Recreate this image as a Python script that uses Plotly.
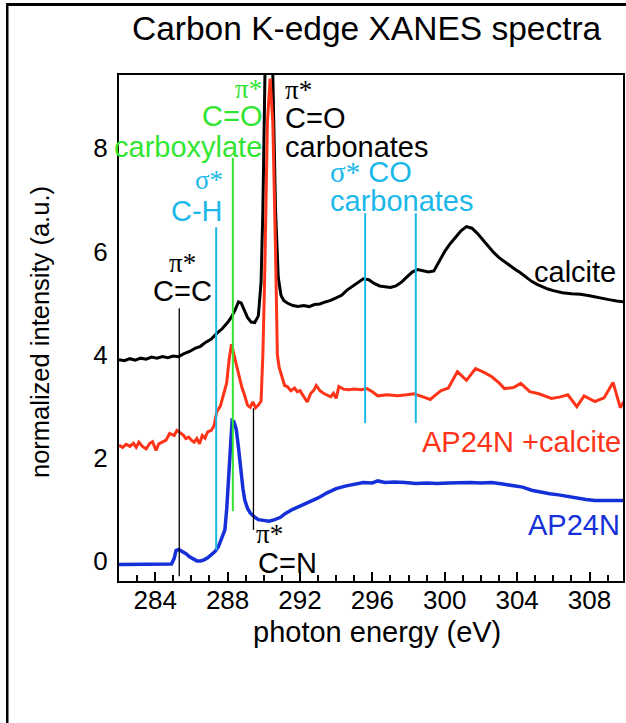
import plotly.graph_objects as go

# ---------------- data ----------------
calcite_x = [282.0, 282.3, 282.6, 282.9, 283.2, 283.5, 283.8, 284.1, 284.4, 284.7, 285.0, 285.3,
             285.6, 285.9, 286.2, 286.5, 286.8, 287.1, 287.4, 287.7, 288.0, 288.2, 288.4, 288.6,
             288.75, 288.9, 289.1, 289.3, 289.5, 289.7, 289.85, 289.95, 290.05, 290.2, 290.35,
             290.5, 290.65, 290.8, 290.95, 291.1, 291.3, 291.6, 291.9, 292.2, 292.5, 292.8, 293.1,
             293.4, 293.7, 294.0, 294.3, 294.6, 294.9, 295.2, 295.5, 295.8, 296.1, 296.4, 296.7,
             297.0, 297.3, 297.6, 297.9, 298.2, 298.5, 298.8, 299.1, 299.4, 299.7, 300.0, 300.3,
             300.6, 300.9, 301.2, 301.5, 301.8, 302.1, 302.4, 302.7, 303.0, 303.3, 303.6, 303.9,
             304.2, 304.5, 304.8, 305.1, 305.4, 305.7, 306.0, 306.5, 307.0, 307.5, 308.0, 308.5,
             309.0, 309.5, 309.9]
calcite_y = [3.90, 3.88, 3.92, 3.89, 3.93, 3.91, 3.95, 3.93, 3.96, 3.94, 3.97, 3.96,
             4.02, 4.06, 4.12, 4.16, 4.24, 4.30, 4.41, 4.50, 4.62, 4.72, 4.85, 5.02,
             5.00, 4.88, 4.72, 4.63, 4.62, 4.75, 5.40, 6.80, 9.60, 12.5, 12.0,
             9.60, 6.80, 5.50, 5.15, 5.05, 5.00, 4.95, 4.93, 4.95, 4.93, 4.97, 4.98,
             5.02, 5.05, 5.10, 5.15, 5.25, 5.32, 5.40, 5.47, 5.45, 5.38, 5.33, 5.32,
             5.30, 5.33, 5.40, 5.50, 5.60, 5.65, 5.63, 5.60, 5.62, 5.80, 6.00, 6.15,
             6.28, 6.40, 6.48, 6.45, 6.35, 6.22, 6.10, 5.98, 5.88, 5.80, 5.72, 5.65,
             5.58, 5.50, 5.42, 5.36, 5.31, 5.27, 5.24, 5.20, 5.18, 5.17, 5.14, 5.10,
             5.07, 5.04, 5.02]

mix_x = [282.0, 282.2, 282.4, 282.6, 282.8, 282.95, 283.1, 283.3, 283.5, 283.7, 283.85, 284.05,
         284.2, 284.4, 284.6, 284.8, 285.05, 285.2, 285.4, 285.55, 285.7, 285.85, 286.0, 286.15,
         286.3, 286.45, 286.6, 286.75, 286.9, 287.1, 287.25, 287.4, 287.6, 287.8, 287.95, 288.1,
         288.22, 288.35, 288.5, 288.65, 288.8, 288.95, 289.1, 289.25, 289.4, 289.55, 289.7, 289.85,
         289.95, 290.05, 290.2, 290.35, 290.5, 290.65, 290.75, 290.85, 291.0, 291.15, 291.3, 291.5,
         291.7, 291.85, 292.0, 292.2, 292.4, 292.6, 292.75, 292.9, 293.1, 293.3, 293.5, 293.7,
         293.85, 294.0, 294.15, 294.4, 294.7, 295.0, 295.4, 295.7, 296.0, 296.3, 296.8, 297.4,
         297.9, 298.3, 298.8, 299.2, 299.5, 299.8, 300.2, 300.7, 301.2, 301.7, 302.2, 302.6,
         303.0, 303.3, 303.8, 304.2, 304.7, 305.2, 305.9, 306.4, 306.8, 307.3, 307.7, 308.3,
         308.8, 309.3, 309.7, 309.9]
mix_y = [2.24, 2.20, 2.26, 2.22, 2.28, 2.20, 2.30, 2.22, 2.17, 2.28, 2.31, 2.14,
         2.27, 2.30, 2.34, 2.47, 2.43, 2.53, 2.47, 2.44, 2.37, 2.40, 2.34, 2.30,
         2.37, 2.27, 2.43, 2.38, 2.50, 2.53, 2.62, 2.89, 3.00, 3.25, 3.45, 3.95,
         4.20, 4.00, 3.78, 3.55, 3.35, 3.20, 3.02, 2.98, 3.08, 2.97, 3.02, 3.10,
         4.00, 5.50, 8.50, 9.35, 8.50, 6.00, 4.00, 3.75, 3.55, 3.40, 3.38, 3.30,
         3.35, 3.28, 3.30, 3.20, 3.08, 3.25, 3.30, 3.40, 3.30, 3.25, 3.22, 3.18,
         3.25, 3.15, 3.38, 3.33, 3.32, 3.33, 3.32, 3.34, 3.28, 3.20, 3.22, 3.20,
         3.22, 3.24, 3.18, 3.13, 3.22, 3.30, 3.35, 3.67, 3.50, 3.73, 3.65, 3.57,
         3.45, 3.34, 3.36, 3.44, 3.28, 3.24, 3.15, 3.18, 3.22, 2.99, 3.20, 3.09,
         3.16, 3.46, 2.97, 3.09]

ap_x = [282.0, 282.5, 283.0, 283.5, 284.0, 284.5, 284.9, 285.05, 285.15, 285.3, 285.5, 285.7,
        285.9, 286.1, 286.3, 286.5, 286.7, 286.9, 287.1, 287.3, 287.5, 287.7, 287.85, 287.95,
        288.05, 288.15, 288.25, 288.35, 288.48, 288.6, 288.7, 288.85, 288.95, 289.1, 289.25, 289.45,
        289.7, 290.0, 290.3, 290.6, 290.9, 291.2, 291.6, 292.0, 292.5, 293.0, 293.5, 294.0,
        294.5, 295.0, 295.5, 296.0, 296.3, 296.7, 297.2, 297.8, 298.4, 299.0, 299.6, 300.2,
        300.8, 301.4, 302.0, 302.6, 303.2, 303.8, 304.3, 304.8, 305.3, 305.8, 306.3, 306.8,
        307.3, 307.8, 308.3, 308.8, 309.3, 309.9]
ap_y = [-0.07, -0.07, -0.07, -0.07, -0.07, -0.07, -0.06, 0.05, 0.20, 0.22, 0.18, 0.14,
        0.08, 0.03, 0.00, 0.00, 0.02, 0.06, 0.12, 0.18, 0.28, 0.45, 0.60, 1.00,
        1.50, 2.20, 2.72, 2.70, 2.55, 2.20, 1.85, 1.40, 1.18, 1.02, 0.93, 0.86,
        0.80, 0.78, 0.77, 0.80, 0.84, 0.92, 1.00, 1.06, 1.14, 1.22, 1.32, 1.40,
        1.45, 1.49, 1.52, 1.51, 1.55, 1.52, 1.53, 1.52, 1.50, 1.51, 1.50, 1.51,
        1.52, 1.52, 1.51, 1.52, 1.49, 1.46, 1.43, 1.37, 1.33, 1.30, 1.28, 1.25,
        1.21, 1.19, 1.17, 1.17, 1.17, 1.17]

x_ticks = [284, 288, 292, 296, 300, 304, 308]
y_ticks = [0, 2, 4, 6, 8]

# transition energies (eV) and marker spans (intensity)
cc_energy, cc_span = 285.33, (-0.30, 4.90)
ch_energy, ch_span = 287.37, (0.21, 6.47)
cooh_energy, cooh_span = 288.29, (0.96, 7.81)
cn_energy, cn_span = 289.43, (0.60, 2.96)
co3_energies, co3_span = [295.6, 298.4], (2.67, 6.74)

# ---------------- figure ----------------
BLACK = "#000000"
RED = "#FF3318"
BLUE = "#1530D8"
GREEN = "#33E533"
CYAN = "#1CB8EA"
SANS = "Liberation Sans, Arial, Helvetica, sans-serif"
SERIF = "Liberation Serif, Times New Roman, serif"

W, H = 626, 723

fig = go.Figure()
fig.add_trace(go.Scatter(x=calcite_x, y=calcite_y, mode="lines",
                         line=dict(color=BLACK, width=3), showlegend=False))
fig.add_trace(go.Scatter(x=mix_x, y=mix_y, mode="lines",
                         line=dict(color=RED, width=3), showlegend=False))
fig.add_trace(go.Scatter(x=ap_x, y=ap_y, mode="lines",
                         line=dict(color=BLUE, width=3.5), showlegend=False))

shapes = []
def vline(xv, span, color, width):
    shapes.append(dict(type="line", xref="x", yref="y", x0=xv, x1=xv,
                       y0=span[0], y1=span[1], line=dict(color=color, width=width)))

vline(cc_energy, cc_span, BLACK, 1.3)
vline(ch_energy, ch_span, CYAN, 2)
vline(cooh_energy, cooh_span, GREEN, 2)
vline(cn_energy, cn_span, BLACK, 1.3)
for e in co3_energies:
    vline(e, co3_span, CYAN, 2)

# outer frame of the figure (top and left edges visible); paper = whole figure
shapes.append(dict(type="rect", xref="paper", yref="paper", layer="above",
                   x0=6 / W, x1=1.0, y0=1 - 6 / H, y1=1 - 3 / H,
                   fillcolor=BLACK, line=dict(width=0)))
shapes.append(dict(type="rect", xref="paper", yref="paper", layer="above",
                   x0=6 / W, x1=8.5 / W, y0=0.0, y1=1 - 3 / H,
                   fillcolor=BLACK, line=dict(width=0)))

ann = []
def txt(x, y, s, color, size=29, family=SANS, xanchor="center", ref="data", angle=0):
    d = dict(x=x, y=y, text=s, showarrow=False, xanchor=xanchor, yanchor="middle",
             font=dict(color=color, size=size, family=family), textangle=angle)
    if ref == "data":
        d.update(xref="x", yref="y")
    else:
        d.update(xref="paper", yref="paper")
    ann.append(d)

# pi* C=C
txt(285.5, 5.78, "π*", BLACK, 27, SERIF)
txt(285.5, 5.24, "C=C", BLACK)
# sigma* C-H
txt(287.85, 7.38, "σ*", CYAN, 27, SERIF, xanchor="right")
txt(287.85, 6.78, "C-H", CYAN, xanchor="right")
# pi* C=O carboxylate
txt(290.0, 9.15, "π*", GREEN, 27, SERIF, xanchor="right")
txt(290.0, 8.62, "C=O", GREEN, xanchor="right")
txt(290.0, 8.02, "carboxylate", GREEN, xanchor="right")
# pi* C=O carbonates
txt(291.05, 9.12, "π*", BLACK, 27, SERIF, xanchor="left")
txt(291.05, 8.59, "C=O", BLACK, xanchor="left")
txt(291.05, 8.02, "carbonates", BLACK, xanchor="left")
# sigma* CO carbonates
ann.append(dict(x=293.55, y=7.54, xref="x", yref="y", showarrow=False, xanchor="left",
                yanchor="middle",
                text="<span style='font-family:Liberation Serif'>σ*</span> CO",
                font=dict(color=CYAN, size=29, family=SANS)))
txt(293.55, 6.98, "carbonates", CYAN, xanchor="left")
# pi* C=N
txt(290.3, 0.52, "π*", BLACK, 27, SERIF)
txt(291.3, -0.04, "C=N", BLACK)
# curve labels
txt(309.6, 5.60, "calcite", BLACK, xanchor="right")
txt(309.85, 2.31, "AP24N +calcite", RED, xanchor="right")
txt(309.8, 0.70, "AP24N", BLUE, xanchor="right")

# titles (paper = whole figure)
txt(366.5 / W, 1 - 29 / H, "Carbon K-edge XANES spectra", BLACK, 33.5, ref="paper")
txt(376.5 / W, 1 - 632 / H, "photon energy (eV)", BLACK, 29, ref="paper")
txt(40 / W, 1 - 332 / H, "normalized intensity (a.u.)", BLACK, 25.5, ref="paper", angle=-90)

fig.update_layout(
    width=W, height=H,
    margin=dict(l=0, r=0, t=0, b=0, pad=0),
    paper_bgcolor="white", plot_bgcolor="white",
    shapes=shapes, annotations=ann,
    font=dict(family=SANS, color=BLACK),
    xaxis=dict(domain=[119 / W, 623 / W],
               range=[282.0, 309.85], tickvals=x_ticks, ticks="inside", ticklen=9,
               tickwidth=2, tickcolor=BLACK, showline=True, linewidth=2, linecolor=BLACK,
               mirror=True, showgrid=False, zeroline=False,
               tickfont=dict(size=26, family=SANS, color=BLACK),
               minor=dict(dtick=1, ticks="inside", ticklen=6, tickwidth=2, tickcolor=BLACK,
                          showgrid=False),
               ticklabelstandoff=-5),
    yaxis=dict(domain=[1 - 581 / H, 1 - 75 / H],
               range=[-0.39, 9.42], tickvals=y_ticks, ticks="", showline=True, linewidth=2,
               linecolor=BLACK, mirror=True, showgrid=False, zeroline=False,
               tickfont=dict(size=26, family=SANS, color=BLACK),
               ticklabelstandoff=4),
)

fig.write_html("out.html", config={"displayModeBar": False},
               post_script="document.body.style.margin='0';document.body.style.overflow='hidden';")
